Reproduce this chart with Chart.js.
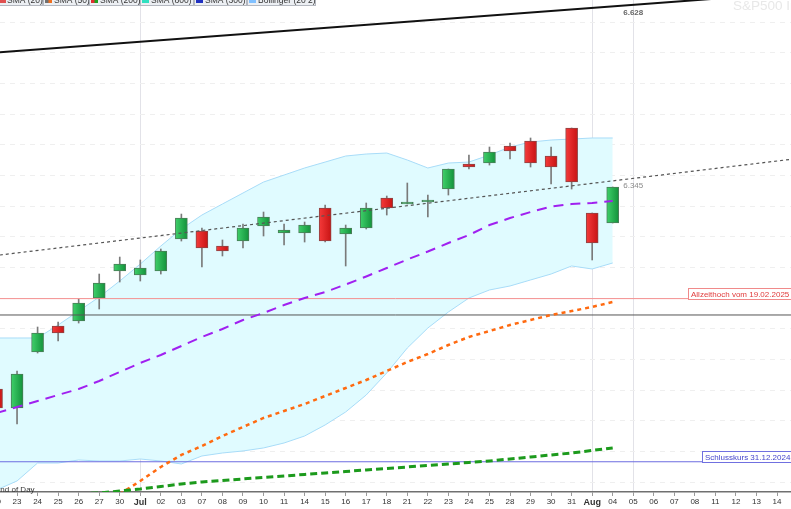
<!DOCTYPE html>
<html><head><meta charset="utf-8">
<script src="https://cdn.jsdelivr.net/npm/chart.js@4.4.1/dist/chart.umd.min.js"></script>
<style>html,body{margin:0;padding:0;background:#fff;overflow:hidden}#wrap{width:791px;height:509px;position:relative}</style>
</head><body><div id="wrap"><canvas id="c" width="791" height="509"></canvas></div>
<script>
// ---- data ----
const dates = ['20','23','24','25','26','27','30','Jul','02','03','07','08','09','10','11','14','15','16','17','18','21','22','23','24','25','28','29','30','31','Aug','04','05','06','07','08','11','12','13','14'];
const monthTicks = [7, 29];
const open  = [6001.7,5970.7,6062.0,6104.4,6112.5,6150.0,6194.0,6187.5,6194.0,6246.2,6259.2,6234.8,6242.9,6267.4,6256.0,6256.0,6296.7,6254.3,6264.1,6313.0,6303.3,6306.5,6327.7,6368.5,6370.1,6397.8,6406.0,6381.5,6427.2,6288.6,6272.3];
const high  = [6008.2,6031.0,6102.7,6110.9,6148.4,6189.1,6216.8,6212.0,6229.9,6286.9,6264.1,6244.6,6270.7,6290.2,6270.7,6273.9,6301.6,6269.0,6304.9,6316.3,6337.5,6317.9,6360.3,6383.1,6396.2,6402.7,6410.9,6396.2,6427.2,6288.6,6331.0];
const low   = [5964.2,5944.6,6060.3,6079.9,6109.2,6132.1,6176.1,6177.7,6189.1,6242.9,6200.5,6218.5,6231.5,6251.1,6236.4,6241.3,6241.3,6202.2,6262.5,6285.3,6303.3,6282.1,6317.9,6360.3,6366.8,6376.6,6363.6,6335.9,6327.7,6212.0,6272.3];
const close = [5970.7,6026.1,6093.0,6093.0,6141.8,6174.5,6205.4,6198.9,6226.6,6280.4,6231.5,6226.6,6264.1,6282.1,6260.9,6269.0,6242.9,6264.1,6296.7,6296.7,6306.5,6309.8,6360.3,6363.6,6388.0,6389.7,6370.1,6363.6,6339.1,6239.7,6331.0];
const bbUpper = [6084.8,6084.8,6084.8,6106.0,6128.8,6151.6,6177.7,6205.4,6234.8,6262.5,6285.3,6303.3,6321.2,6339.1,6350.5,6362.0,6371.7,6381.5,6384.8,6386.4,6375.0,6362.0,6370.1,6371.7,6383.1,6396.2,6404.3,6407.6,6409.2,6410.9,6410.9];
const bbLower = [5837.0,5851.7,5881.0,5881.0,5885.9,5884.2,5884.2,5887.5,5884.2,5879.4,5892.4,5897.3,5900.6,5905.5,5913.6,5925.0,5943.0,5964.2,5991.9,6027.8,6068.5,6101.1,6127.2,6150.0,6163.1,6169.6,6179.4,6189.1,6202.2,6197.3,6207.1];
const smaPurple = [5962.5,5972.3,5982.1,5991.9,6001.7,6014.7,6029.4,6044.1,6057.1,6071.8,6086.5,6099.5,6114.2,6125.6,6138.6,6150.0,6159.8,6172.0,6185.1,6198.9,6212.8,6225.8,6239.7,6252.7,6269.0,6280.4,6290.2,6299.2,6303.3,6304.9,6308.1];
const smaOrange = [null,null,null,null,null,5809.3,5830.4,5851.7,5874.5,5894.1,5908.7,5925.0,5939.7,5954.4,5965.8,5977.2,5990.3,6003.3,6016.3,6031.0,6045.7,6058.7,6073.4,6086.5,6096.2,6106.0,6114.2,6122.3,6128.8,6135.4,6143.5];
const smaGreen  = [null,null,null,5828.9,5830.5,5832.1,5835.4,5838.6,5842.7,5846.8,5850.1,5852.5,5855.0,5857.4,5859.8,5862.3,5864.7,5867.2,5869.6,5872.1,5874.5,5877.0,5879.4,5881.8,5884.3,5887.5,5890.8,5894.1,5897.3,5901.4,5905.5];
const trendX = [-1, 40];
const trendSolid = [6547.7, 6650.6];
const trendDotted = [6215.4, 6381.5];
const allTimeHigh = 6149.0;
const closeEndOfYear = 5883.0;
const greyLevel = 6122.3;
const labelIndex = 31;
const legendLabels = ['SMA (20)','SMA (50)','SMA (200)','SMA (800)','SMA (300)','Bollinger (20 2)'];
const allTimeHighText = 'Allzeithoch vom 19.02.2025 (6.147,43)';
const closeText = 'Schlusskurs 31.12.2024 (5.881,63)';

// ---- helpers ----
const FONT = '"Liberation Sans", Arial, sans-serif';
const pts = arr => arr.map((v,i)=> v==null ? null : ({x:i, y:v})).filter(p=>p);
const hline = v => [{x:-2,y:v},{x:41,y:v}];
const fmt = v => Math.round(v).toString().replace(/\B(?=(\d{3})+(?!\d))/g,'.');
const isUp = i => close[i] >= open[i];

function bodyFill(ctx){
  const up = ctx.dataIndex == null ? true : isUp(ctx.dataIndex);
  const solid = up ? '#22b04c' : '#e42020';
  const ch = ctx.chart; const xs = ch.scales && ch.scales.x;
  if (!xs || ctx.dataIndex == null) return solid;
  const px = xs.getPixelForValue(ctx.dataIndex);
  if (!isFinite(px)) return solid;
  const g = ch.ctx.createLinearGradient(px-6,0,px+6,0);
  if (up) { g.addColorStop(0,'#3fd06a'); g.addColorStop(1,'#13923b'); }
  else { g.addColorStop(0,'#f53a3a'); g.addColorStop(1,'#c81414'); }
  return g;
}

const overlay = {
  id:'overlay',
  beforeDatasetsDraw(chart){
    const {ctx} = chart;
    ctx.save();
    ctx.font = '13.5px ' + FONT;
    ctx.fillStyle = '#e8e8e8';
    ctx.textBaseline = 'alphabetic';
    ctx.fillText('S&P500 Index', 733, 10);
    ctx.restore();
  },
  afterDraw(chart){
    const {ctx, scales:{x,y}} = chart;
    ctx.save();
    const tv = (arr) => arr[0] + (arr[1]-arr[0])*(labelIndex-trendX[0])/(trendX[1]-trendX[0]);
    const lx = x.getPixelForValue(labelIndex);
    ctx.textAlign = 'center'; ctx.textBaseline = 'middle';
    let v1 = tv(trendSolid);
    ctx.font = 'bold 8px ' + FONT; ctx.fillStyle = '#666';
    ctx.fillText(fmt(v1), lx, y.getPixelForValue(v1) + 8);
    let v2 = tv(trendDotted);
    ctx.font = '8px ' + FONT; ctx.fillStyle = '#8a8a8a';
    ctx.fillText(fmt(v2), lx, y.getPixelForValue(v2) + 7);
    ctx.textAlign = 'left'; ctx.textBaseline = 'alphabetic';
    const box = (val, bx, text, border, color) => {
      const py = Math.round(y.getPixelForValue(val));
      ctx.fillStyle = '#fff'; ctx.fillRect(bx, py-11, 200, 11);
      ctx.strokeStyle = border; ctx.lineWidth = 1;
      ctx.strokeRect(bx+0.5, py-10.5, 200, 11);
      ctx.font = '8px ' + FONT; ctx.fillStyle = color;
      ctx.fillText(text, bx+3, py-2.5);
    };
    box(allTimeHigh, 688, allTimeHighText, '#f08a8a', '#e03c3c');
    box(closeEndOfYear, 702, closeText, '#7070e0', '#4646cc');
    ctx.font = '8px ' + FONT; ctx.fillStyle = '#333';
    ctx.fillText('End of Day', -5, 492);
    const cols = [['#e05050'],['#707070','#f07020'],['#e03030','#20a020'],['#30e0c0'],['#2030c0'],['#80c0ff']];
    const edges = [-6, 43, 89, 140, 194, 247, 316];
    ctx.font = '8.5px ' + FONT;
    legendLabels.forEach((t,i)=>{
      const x0 = edges[i], w = edges[i+1] - edges[i] - 1;
      ctx.fillStyle = '#eceff3'; ctx.fillRect(x0, -10, w, 15.5);
      ctx.strokeStyle = '#b4b8c0'; ctx.lineWidth = 1; ctx.strokeRect(x0+0.5, -10, w, 15.5);
      const c = cols[i];
      const sx = i === 0 ? x0 + 5 : x0 + 2;
      ctx.fillStyle = c[0]; ctx.fillRect(sx, -5, 7, 8);
      if (c[1]) { ctx.fillStyle = c[1]; ctx.fillRect(sx+3.5, -5, 3.5, 8); }
      ctx.fillStyle = '#333'; ctx.fillText(t, (i === 0 ? x0 + 13 : x0 + 11), 2.5);
    });
    ctx.restore();
  }
};

const idx = close.map((_,i)=>i);
new Chart(document.getElementById('c'), {
  type: 'bar',
  data: {
    datasets: [
      {type:'line', label:'BB upper', data: pts(bbUpper), borderColor:'#a8dcf8', borderWidth:1, pointRadius:0, fill:false, order:6, tension:0},
      {type:'line', label:'BB lower', data: pts(bbLower), borderColor:'#a8dcf8', borderWidth:1, pointRadius:0, fill:'-1', backgroundColor:'#e0fbff', order:6, tension:0},
      {type:'bar', label:'wick', data: idx.map(i=>({x:i, y:[low[i], high[i]]})), backgroundColor:'#7a7a7a', barThickness:1, grouped:false, order:5},
      {type:'bar', label:'body', data: idx.map(i=>({x:i, y:[open[i], close[i]]})), backgroundColor: bodyFill,
        borderColor: c => (c.dataIndex == null || isUp(c.dataIndex)) ? '#4a7d58' : '#8e4444', borderWidth:1, borderSkipped:false, barThickness:12, grouped:false, order:4},
      {type:'line', label:'ATH', data: hline(allTimeHigh), borderColor:'#f49090', borderWidth:1, pointRadius:0, order:3},
      {type:'line', label:'YE', data: hline(closeEndOfYear), borderColor:'#6c6ce0', borderWidth:1, pointRadius:0, order:3},
      {type:'line', label:'grey', data: hline(greyLevel), borderColor:'#555', borderWidth:1, pointRadius:0, order:3},
      {type:'line', label:'SMA green', data: pts(smaGreen), borderColor:'#1c9a1c', borderWidth:3, borderDash:[7,4], pointRadius:0, order:2},
      {type:'line', label:'SMA orange', data: pts(smaOrange), borderColor:'#ff6a10', borderWidth:2.5, borderDash:[4,4], pointRadius:0, order:2},
      {type:'line', label:'SMA purple', data: pts(smaPurple), borderColor:'#a020f0', borderWidth:2, borderDash:[10,7], pointRadius:0, order:2},
      {type:'line', label:'trend dotted', data: trendX.map((xv,i)=>({x:xv,y:trendDotted[i]})), borderColor:'#555', borderWidth:1.2, borderDash:[3,3], pointRadius:0, order:1},
      {type:'line', label:'trend solid', data: trendX.map((xv,i)=>({x:xv,y:trendSolid[i]})), borderColor:'#111', borderWidth:2, pointRadius:0, order:1}
    ]
  },
  options: {
    responsive:false, animation:false, devicePixelRatio:1,
    layout:{padding:0},
    plugins:{legend:{display:false}, tooltip:{enabled:false}, filler:{drawTime:'beforeDatasetsDraw'}},
    scales:{
      x:{
        type:'linear', min:0.17, max:38.68, offset:false,
        afterBuildTicks: s => { s.ticks = dates.map((d,i)=>({value:i})); },
        afterFit: s => { s.height = 17; s.paddingLeft = 0; s.paddingRight = 0; },
        ticks:{ autoSkip:false, maxRotation:0, padding:1, color:'#333',
          callback: v => dates[v],
          font: c => ({family:FONT, size: (c.tick && monthTicks.includes(c.tick.value)) ? 9 : 8, weight: (c.tick && monthTicks.includes(c.tick.value)) ? 'bold' : 'normal'}) },
        grid:{ offset:false, color: c => (c.tick && [7,29,31].includes(c.tick.value)) ? '#e2e2e8' : 'rgba(0,0,0,0)', tickColor:'#9a9a9a', tickLength:4, lineWidth:1 },
        border:{ display:true, color:'#707070', width:1.5 }
      },
      y:{
        type:'linear', min:5833.7, max:6635.9, position:'left',
        afterBuildTicks: s => { const t=[]; for(let v=5850; v<=6600; v+=50) t.push({value:v}); s.ticks=t; },
        afterFit: s => { s.width = 0; },
        ticks:{ display:false },
        grid:{ color:'#efefef', drawTicks:false, lineWidth:1 },
        border:{ display:false, dash:[5,5] }
      }
    }
  },
  plugins:[overlay]
});
</script></body></html>
